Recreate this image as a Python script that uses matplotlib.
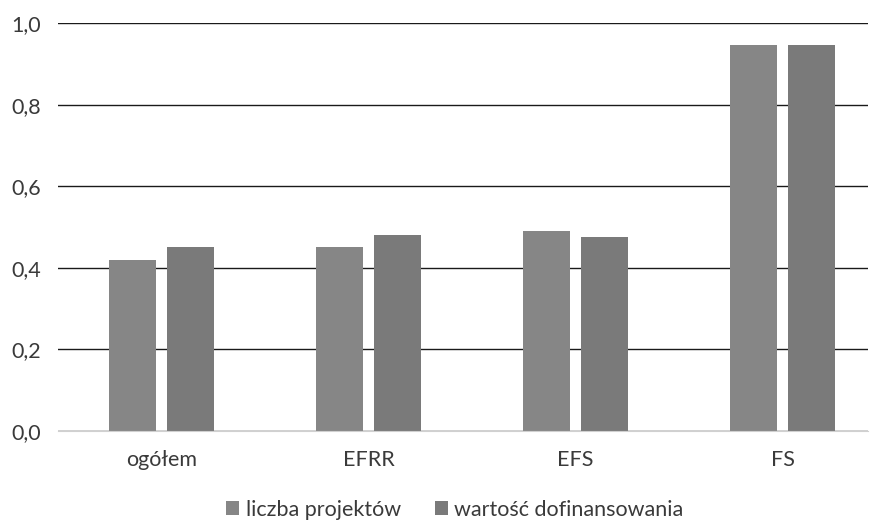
import numpy as np
import matplotlib.pyplot as plt
from matplotlib.ticker import FuncFormatter

kategorie = ["ogółem", "EFRR", "EFS", "FS"]
liczba_projektow = [0.42, 0.45, 0.49, 0.945]
wartosc_dofinansowania = [0.45, 0.48, 0.476, 0.945]
serie = ["liczba projektów", "wartość dofinansowania"]

plt.rcParams['font.family'] = ['Lato', 'DejaVu Sans']

fig = plt.figure(figsize=(8.8, 5.21), dpi=100)
ax = fig.add_axes([58 / 880, 1 - 431 / 521, (868 - 58) / 880, 408 / 521])

x = np.arange(len(kategorie))
w = 0.227
ax.bar(x - 0.141, liczba_projektow, width=w, color="#868686", label=serie[0], zorder=2)
ax.bar(x + 0.141, wartosc_dofinansowania, width=w, color="#7a7a7a", label=serie[1], zorder=2)

ax.set_ylim(0, 1.0)
ax.set_xlim(-0.5, 3.413)
ax.set_yticks([0, 0.2, 0.4, 0.6, 0.8, 1.0])
ax.yaxis.set_major_formatter(FuncFormatter(lambda v, p: f"{v:.1f}".replace(".", ",")))
ax.set_xticks(x)
ax.set_xticklabels(kategorie)

ax.grid(axis="y", color="#1a1a1a", linewidth=1.0, zorder=0)
for s in ["top", "right", "left"]:
    ax.spines[s].set_visible(False)
ax.spines["bottom"].set_color("#d0d0d0")
ax.tick_params(axis="both", length=0, labelsize=15.5, colors="#3a3a3a")
ax.tick_params(axis="x", pad=14)
ax.tick_params(axis="y", pad=12)

leg = fig.legend(loc="lower center", bbox_to_anchor=(0.517, -0.035), ncol=2, frameon=False,
                 fontsize=15.5, handlelength=0.6, handleheight=0.6, handletextpad=0.3,
                 columnspacing=1.6, labelcolor="#3a3a3a")

fig.savefig("out.png", dpi=100)
